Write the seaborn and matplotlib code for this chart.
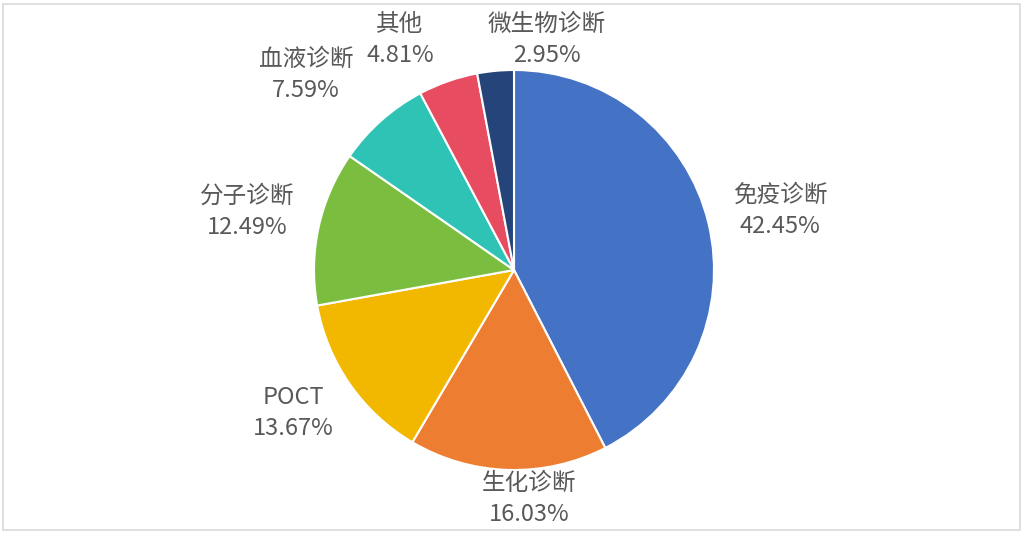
import matplotlib
matplotlib.use("Agg")
import matplotlib.pyplot as plt
import seaborn as sns
from matplotlib.patches import Rectangle

categories = ["免疫诊断", "生化诊断", "POCT", "分子诊断", "血液诊断", "其他", "微生物诊断"]
values = [42.45, 16.03, 13.67, 12.49, 7.59, 4.81, 2.95]
pct_labels = ["42.45%", "16.03%", "13.67%", "12.49%", "7.59%", "4.81%", "2.95%"]
colors = ["#4472C4", "#ED7D31", "#F2B800", "#7BBE3F", "#2EC3B4", "#E74C60", "#254479"]

sns.set_theme(style="white")
plt.rcParams["font.family"] = ["Noto Sans CJK SC", "DejaVu Sans"]

fig = plt.figure(figsize=(10.25, 5.34), dpi=100)
fig.patch.set_facecolor("white")
fig.add_artist(Rectangle((3 / 1025, 4 / 534), 1017 / 1025, 526 / 534,
                         transform=fig.transFigure, fill=False,
                         edgecolor="#D9D9D9", linewidth=1.2))

ax = fig.add_axes([314 / 1025, 64 / 534, 400 / 1025, 400 / 534])
wedges, _ = ax.pie(values, colors=colors, startangle=90, counterclock=False,
                   radius=1.0, wedgeprops=dict(edgecolor="white", linewidth=1.5))
ax.set_xlim(-1, 1)
ax.set_ylim(-1, 1)
ax.set_aspect("equal")
ax.axis("off")

# label anchor positions (data coords of pie axes)
label_pos = [(1.33, 0.295), (0.075, -1.145), (-1.105, -0.715), (-1.335, 0.29),
             (-1.04, 0.975), (-0.57, 1.15), (0.165, 1.15)]
for cat, pct, (x, y) in zip(categories, pct_labels, label_pos):
    ax.text(x, y, f"{cat}\n{pct}", ha="center", va="center", fontsize=17,
            color="#595959", linespacing=1.45, clip_on=False)

fig.savefig("out.png", dpi=100)
